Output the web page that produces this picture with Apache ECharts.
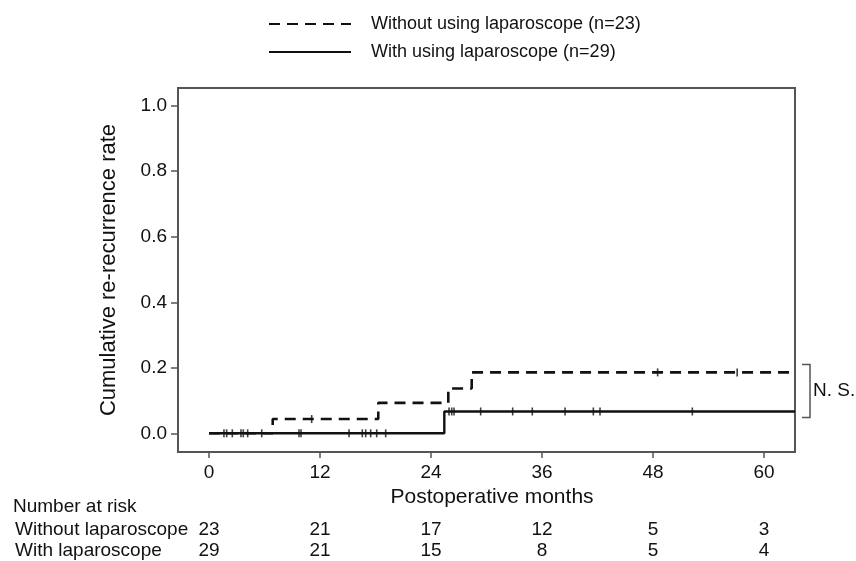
<!DOCTYPE html>
<html>
<head>
<meta charset="utf-8">
<script src="https://cdn.jsdelivr.net/npm/echarts@6/dist/echarts.min.js"></script>
<style>
html,body{margin:0;padding:0;background:#fff;}
#c{width:856px;height:561px;}
</style>
</head>
<body>
<div id="c"></div>
<script>
// ---- data ----
const seriesNames = ['Without using laparoscope (n=23)', 'With using laparoscope (n=29)'];
const xTicks = [0, 12, 24, 36, 48, 60];
const yTicks = [0, 0.2, 0.4, 0.6, 0.8, 1.0];
const xRange = [-3.35, 63.35];
const yRange = [-0.057, 1.054];

// step changes (time, cumulative rate)
const withoutTimes  = [0, 6.89, 18.3, 25.87, 28.4];
const withoutLevels = [0, 0.0435, 0.093, 0.137, 0.186];
const withTimes  = [0, 25.44];
const withLevels = [0, 0.0667];

// censored observations (time)
const withoutCensor = [11.1, 48.5, 57.1];
const withCensor = [1.62, 1.91, 2.52, 3.46, 3.71, 4.18, 5.70, 9.73, 9.95,
  15.14, 16.57, 16.94, 17.48, 18.13, 19.1,
  25.95, 26.24, 26.49, 29.37, 32.83, 34.95, 38.49, 41.55, 42.27, 52.25];

// number at risk
const riskTimes = [0, 12, 24, 36, 48, 60];
const riskRows = ['Without laparoscope', 'With laparoscope'];
const riskWithout = [23, 21, 17, 12, 5, 3];
const riskWith = [29, 21, 15, 8, 5, 4];

const nsLabel = 'N. S.';
const nsRange = [0.048, 0.21];

// ---- build ----
function stepData(times, levels, endX) {
  const d = times.map((t, i) => [t, levels[i]]);
  d.push([endX, levels[levels.length - 1]]);
  return d;
}
function levelAt(times, levels, t) {
  let v = levels[0];
  for (let i = 0; i < times.length; i++) if (t >= times[i]) v = levels[i];
  return v;
}
const FONT = '"Liberation Sans", Arial, sans-serif';
const INK = '#111';
const FRAME = '#555';

const chart = echarts.init(document.getElementById('c'), null, {renderer: 'canvas'});
const riskData = [];
riskTimes.forEach((t, i) => {
  riskData.push([t, 0, riskWithout[i]]);
  riskData.push([t, 1, riskWith[i]]);
});

const option = {
  animation: false,
  backgroundColor: '#fff',
  textStyle: {fontFamily: FONT, color: INK},
  legend: {
    data: seriesNames,
    orient: 'vertical',
    left: 263, top: 9,
    itemWidth: 82, itemHeight: 14, itemGap: 8,
    itemStyle: {opacity: 0},
    textStyle: {fontFamily: FONT, fontSize: 18, color: INK, lineHeight: 20, padding: [0, 0, 0, 15]},
    selectedMode: false
  },
  grid: [
    {left: 178, right: 61, top: 88, bottom: 109, show: true, borderColor: FRAME, borderWidth: 2, containLabel: false},
    {left: 178, right: 61, top: 519, height: 45, show: false}
  ],
  xAxis: [{
    type: 'value', gridIndex: 0, min: xRange[0], max: xRange[1],
    axisLine: {show: true, onZero: false, lineStyle: {color: FRAME, width: 2}},
    axisTick: {show: true, length: 6, lineStyle: {color: FRAME, width: 1.5}, customValues: xTicks},
    axisLabel: {customValues: xTicks, fontSize: 19, color: INK, fontFamily: FONT, margin: 11},
    splitLine: {show: false},
    name: 'Postoperative months', nameLocation: 'middle', nameGap: 30,
    nameTextStyle: {fontSize: 21, color: INK, fontFamily: FONT, padding: [0, 0, 0, 11]}
  }, {
    type: 'value', gridIndex: 1, min: xRange[0], max: xRange[1], show: false
  }],
  yAxis: [{
    type: 'value', gridIndex: 0, min: yRange[0], max: yRange[1],
    axisLine: {show: true, onZero: false, lineStyle: {color: FRAME, width: 2}},
    axisTick: {show: true, length: 7, lineStyle: {color: FRAME, width: 1.5}, customValues: yTicks},
    axisLabel: {customValues: yTicks, fontSize: 19, color: INK, fontFamily: FONT, margin: 11,
      formatter: v => v.toFixed(1)},
    splitLine: {show: false},
    name: 'Cumulative re-recurrence rate', nameLocation: 'middle', nameGap: 58,
    nameTextStyle: {fontSize: 22, color: INK, fontFamily: FONT}
  }, {
    type: 'category', gridIndex: 1, data: riskRows, inverse: true,
    axisLine: {show: false}, axisTick: {show: false}, splitLine: {show: false},
    axisLabel: {show: true, interval: 0, hideOverlap: false, align: 'left', margin: 163,
      fontSize: 19, color: INK, fontFamily: FONT}
  }],
  series: [
    {
      name: seriesNames[0], type: 'line', step: 'end', xAxisIndex: 0, yAxisIndex: 0,
      symbol: 'none', showSymbol: false, z: 3,
      lineStyle: {color: INK, width: 2.6, type: [11, 7]},
      itemStyle: {color: INK},
      data: stepData(withoutTimes, withoutLevels, xRange[1])
    },
    {
      name: seriesNames[1], type: 'line', step: 'end', xAxisIndex: 0, yAxisIndex: 0,
      symbol: 'none', showSymbol: false, z: 4,
      lineStyle: {color: INK, width: 2.4, type: 'solid'},
      itemStyle: {color: INK},
      data: stepData(withTimes, withLevels, xRange[1])
    },
    {
      name: 'censor-without', type: 'scatter', xAxisIndex: 0, yAxisIndex: 0, z: 5,
      symbol: 'rect', symbolSize: [1.6, 8], itemStyle: {color: INK},
      data: withoutCensor.map(t => [t, levelAt(withoutTimes, withoutLevels, t)])
    },
    {
      name: 'censor-with', type: 'scatter', xAxisIndex: 0, yAxisIndex: 0, z: 5,
      symbol: 'rect', symbolSize: [1.6, 8], itemStyle: {color: INK},
      data: withCensor.map(t => [t, levelAt(withTimes, withLevels, t)])
    },
    {
      name: 'risk', type: 'custom', xAxisIndex: 1, yAxisIndex: 1,
      renderItem: function (params, api) {
        const p = api.coord([api.value(0), api.value(1)]);
        return {
          type: 'text', x: p[0], y: p[1],
          style: {text: String(api.value(2)), fill: INK, font: '19px ' + FONT,
            align: 'center', verticalAlign: 'middle'}
        };
      },
      encode: {x: 0, y: 1},
      data: riskData
    }
  ]
};
chart.setOption(option);

// bracket and annotations positioned via axis scales
const pTop = chart.convertToPixel({gridIndex: 0}, [xRange[1], nsRange[1]]);
const pBot = chart.convertToPixel({gridIndex: 0}, [xRange[1], nsRange[0]]);
const bx0 = pTop[0] + 7, bx1 = pTop[0] + 15;
chart.setOption({
  graphic: [
    {type: 'polyline', shape: {points: [[bx0, pTop[1]], [bx1, pTop[1]], [bx1, pBot[1]], [bx0, pBot[1]]]},
     style: {stroke: FRAME, lineWidth: 1.5, fill: null}},
    {type: 'text', left: bx1 + 3, top: (pTop[1] + pBot[1]) / 2 - 10,
     style: {text: nsLabel, font: '19px ' + FONT, fill: INK}},
    {type: 'text', left: 13, top: 497,
     style: {text: 'Number at risk', font: '19px ' + FONT, fill: INK}}
  ]
});
</script>
</body>
</html>
